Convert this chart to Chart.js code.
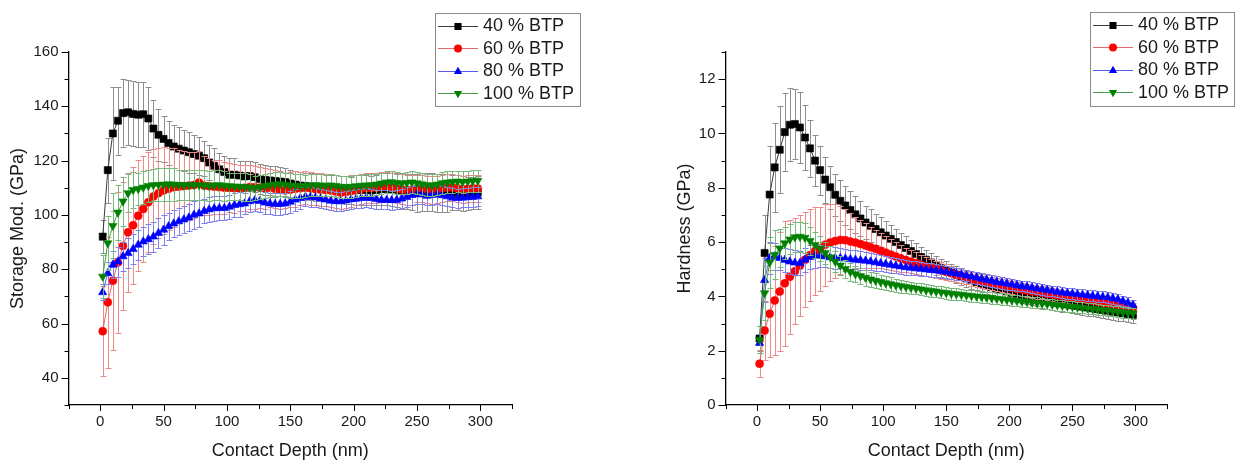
<!DOCTYPE html>
<html>
<head>
<meta charset="utf-8">
<script src="https://cdn.jsdelivr.net/npm/chart.js@4.4.1/dist/chart.umd.min.js"></script>
<style>
html,body{margin:0;padding:0;background:#ffffff;}
#wrap{position:relative;width:1236px;height:462px;overflow:hidden;background:#fff;}
.panel{position:absolute;top:0;width:618px;height:462px;}
canvas{display:block;}
</style>
</head>
<body>
<div id="wrap">
  <div class="panel" style="left:0px"><canvas id="c1" width="618" height="462"></canvas></div>
  <div class="panel" style="left:618px"><canvas id="c2" width="618" height="462"></canvas></div>
</div>
<script>
// ---------------- DATA ----------------
const seriesLabels = ['40 % BTP', '60 % BTP', '80 % BTP', '100 % BTP'];

const depthNm = [
  2,6,10,14,18,22,26,30,34,38,
  42,46,50,54,58,62,66,70,74,78,
  82,86,90,94,98,102,106,110,114,118,
  122,126,130,134,138,142,146,150,154,158,
  162,166,170,174,178,182,186,190,194,198,
  202,206,210,214,218,222,226,230,234,238,
  242,246,250,254,258,262,266,270,274,278,
  282,286,290,294,298
];

// Storage modulus (GPa)
const modulus40 = [
  92,116.5,130,134.7,137.5,137.8,137.2,136.9,137.1,135.5,
  131.8,129.5,128,126.5,125.2,124.4,123.7,123.1,122.4,121.8,
  120.9,119.3,118.1,116.8,115.8,114.8,114.8,114.5,114.2,114.3,
  113.9,113.2,112.9,112.7,112.5,112.3,112.1,111.6,111.2,110.8,
  110.6,110.5,110.3,110.2,110,109.8,109.6,109.3,109.2,109,
  109.1,109.3,109.2,109,109.2,109.5,109.6,109.4,109.1,108.8,
  108.6,108.4,108.2,108.3,108.5,108.4,108.2,108,108.1,108.3,
  108.2,108,107.9,108.1,108.3
];
const modulus40Err = [
  6,12,17,12.5,12.5,12,12,12,12,11.5,
  10.5,9.5,8.5,8,8,8,7.5,7.5,7,7,
  6.5,6.5,6.5,6,6,6,6,5.5,5.5,5.5,
  5.5,5.5,5.5,5.5,5.5,5.5,5,5,5,5,
  5,5,5,5,5,5,5,5,5,5,
  5.5,5.5,5.5,5.5,5.5,6,6,6,6,6.5,
  6.5,6.5,7,7,7,7,7,7,7,6.5,
  6.5,6.5,6,6,6
];
const modulus60 = [
  57.2,67.8,75.8,82.5,88.6,93.6,96.2,99.7,102.2,104.7,
  106.8,108,109,109.6,110.2,110.4,110.6,110.8,111,111.9,
  110.8,110.6,110.4,110.2,110,110,109.8,109.8,110,110.3,
  110.2,110,109.8,110,109.6,109.2,109,109.3,109.6,109.8,
  110,109.8,109.5,109.3,109.2,109,108.6,108.2,108.4,108.8,
  109.2,109.6,109.8,109.9,110,110.2,110.3,110.1,109.8,109.4,
  109.2,109.3,109.6,109.8,109.5,109.2,109.4,109.8,110,110.1,
  109.8,109.5,109.6,109.8,109.7
];
const modulus60Err = [
  16.5,24,25.5,26,23.5,22,21.5,20.5,19.5,18.5,
  17.5,16.5,16,15,14.5,13.5,13,12.5,12,11.5,
  11,10.5,10,10,9.5,9,9,8.5,8.5,8,
  8,7.5,7.5,7,7,7,6.5,6.5,6.5,6,
  6,6,6,6,6,6,6,6,6,6,
  5.5,5.5,5.5,5.5,5.5,5.5,5.5,5.5,5.5,5.5,
  5.5,5.5,5,5,5,5,5,5,5,5,
  5,5,5,5,5
];
const modulus80 = [
  71.5,78.5,81.6,82.8,84.7,85.9,87.4,89,90.2,91,
  92,93.3,94.5,95.8,96.8,97.6,98.3,99,100,100.5,
  101.4,102,102.4,102.5,102.5,103,103.6,103.9,104.2,105,
  105.4,105.1,104.5,104.2,104,104,104.2,104.8,105.6,106.2,
  106.7,106.6,106.4,106,105.6,105.2,105,105,105.3,105.7,
  105.9,106.2,106.3,106.2,105.8,105.5,105.5,105.4,105.5,106,
  106.6,107.3,107.6,107.5,107,107.3,107.6,107.2,106.8,106.3,
  106.2,106.3,106.5,106.6,106.8
];
const modulus80Err = [
  3,4,5,5.5,5.5,5.5,5.5,5.5,5.5,5.5,
  5.5,5.5,5.5,5,5,5,5,5,5,5,
  4.5,4.5,4.5,4.5,4.5,4.5,4.5,4.5,4,4,
  4,4,4,4,4,4,4,4,4,4,
  3.5,3.5,3.5,3.5,3.5,3.5,3.5,3.5,3.5,3.5,
  3.5,3.5,3.5,3.5,3.5,3.5,3.5,3.5,3.5,3.5,
  3.5,3.5,3.5,3.5,3.5,3.5,3.5,3.5,3.5,3.5,
  3.5,3.5,3.5,3.5,3.5
];
const modulus100 = [
  77.3,89.6,96,100.9,105,108,109.2,109.6,110.1,110.7,
  111,111.1,111.2,111.3,111.2,111.1,111,111,111.1,111,
  110.9,110.8,110.9,111,110.8,110.6,110.5,110.4,110.3,110.1,
  109.9,110.2,110.6,111,111.2,111.3,111.1,110.9,110.7,110.6,
  110.7,110.9,111,110.9,110.8,110.9,110.7,110.4,110.3,110.4,
  110.6,110.8,110.9,111,111.2,111.6,112,112.1,111.8,111.6,
  111.8,112,111.7,111.3,111,110.9,111.2,111.7,112,112.2,
  112.3,112.2,112.3,112.5,112.6
];
const modulus100Err = [
  8,10,12,10,9,7,6.5,6,6,6,
  6,6,6,6,6,5.5,5.5,5.5,5.5,5.5,
  5.5,5.5,5.5,5.5,5.5,5,5,5,5,5,
  4.5,4.5,4.5,4.5,4.5,4.5,4.5,4.5,4.5,4.5,
  4,4,4,4,4,4,4,4,4,4,
  4,4,4,4,4,4,4,4,4,4,
  4,4,4,4,4,4,4,4,4,4,
  4,4,4,4,4
];

// Hardness (GPa)
const hardness40 = [
  2.45,5.6,7.75,8.75,9.4,10.05,10.32,10.35,10.22,9.85,
  9.45,9.0,8.65,8.3,8.02,7.74,7.52,7.35,7.18,7.02,
  6.87,6.72,6.6,6.48,6.36,6.24,6.12,6.0,5.89,5.78,
  5.67,5.56,5.45,5.35,5.25,5.15,5.05,4.96,4.88,4.8,
  4.73,4.66,4.59,4.52,4.46,4.4,4.34,4.28,4.23,4.18,
  4.13,4.09,4.05,4.01,3.97,3.93,3.89,3.85,3.81,3.77,
  3.74,3.71,3.68,3.65,3.62,3.59,3.56,3.53,3.5,3.47,
  3.44,3.41,3.38,3.35,3.32
];
const hardness40Err = [
  0.45,1.4,1.8,1.65,1.6,1.45,1.35,1.3,1.3,1.2,
  1.05,0.95,0.9,0.85,0.8,0.78,0.75,0.72,0.7,0.68,
  0.65,0.62,0.6,0.57,0.55,0.52,0.5,0.48,0.46,0.44,
  0.42,0.4,0.38,0.37,0.36,0.35,0.34,0.33,0.32,0.31,
  0.3,0.3,0.3,0.3,0.3,0.3,0.3,0.3,0.3,0.3,
  0.3,0.3,0.3,0.3,0.3,0.3,0.3,0.3,0.3,0.3,
  0.3,0.3,0.3,0.3,0.3,0.3,0.3,0.3,0.3,0.3,
  0.3,0.3,0.3,0.3,0.3
];
const hardness60 = [
  1.52,2.74,3.36,3.85,4.18,4.48,4.72,4.93,5.13,5.35,
  5.52,5.67,5.76,5.9,5.98,6.04,6.08,6.07,6.02,5.98,
  5.93,5.87,5.81,5.75,5.68,5.61,5.54,5.47,5.4,5.34,
  5.28,5.22,5.16,5.1,5.05,5.0,4.95,4.9,4.85,4.8,
  4.75,4.7,4.65,4.6,4.56,4.52,4.48,4.44,4.4,4.36,
  4.32,4.28,4.25,4.22,4.19,4.16,4.13,4.1,4.07,4.04,
  4.01,3.98,3.95,3.92,3.89,3.86,3.83,3.8,3.77,3.74,
  3.71,3.68,3.65,3.61,3.57
];
const hardness60Err = [
  0.5,1.1,1.6,2.0,2.2,2.3,2.1,1.95,1.85,1.75,
  1.7,1.62,1.55,1.5,1.42,1.35,1.25,1.15,1.05,0.95,
  0.88,0.82,0.76,0.7,0.65,0.6,0.56,0.52,0.49,0.46,
  0.43,0.4,0.38,0.36,0.34,0.32,0.3,0.28,0.27,0.26,
  0.25,0.25,0.25,0.25,0.25,0.25,0.25,0.25,0.25,0.25,
  0.24,0.24,0.24,0.24,0.24,0.24,0.24,0.24,0.24,0.24,
  0.22,0.22,0.22,0.22,0.22,0.22,0.22,0.22,0.22,0.22,
  0.2,0.2,0.2,0.2,0.2
];
const hardness80 = [
  2.28,4.6,5.41,5.47,5.41,5.34,5.28,5.24,5.23,5.35,
  5.45,5.49,5.49,5.47,5.44,5.41,5.41,5.39,5.37,5.35,
  5.33,5.31,5.28,5.25,5.22,5.19,5.16,5.13,5.1,5.07,
  5.05,5.03,5.01,4.99,4.97,4.95,4.93,4.9,4.87,4.84,
  4.81,4.77,4.73,4.69,4.65,4.61,4.57,4.53,4.5,4.47,
  4.44,4.41,4.38,4.35,4.32,4.29,4.26,4.23,4.2,4.17,
  4.14,4.12,4.1,4.08,4.06,4.04,4.02,4.0,3.98,3.96,
  3.93,3.89,3.83,3.76,3.68
];
const hardness80Err = [
  0.35,0.8,0.6,0.5,0.45,0.45,0.45,0.45,0.45,0.45,
  0.45,0.45,0.4,0.4,0.4,0.4,0.38,0.36,0.35,0.35,
  0.34,0.33,0.32,0.31,0.3,0.3,0.29,0.28,0.28,0.27,
  0.27,0.26,0.26,0.25,0.25,0.24,0.24,0.23,0.23,0.22,
  0.22,0.22,0.22,0.22,0.22,0.22,0.22,0.22,0.22,0.22,
  0.2,0.2,0.2,0.2,0.2,0.2,0.2,0.2,0.2,0.2,
  0.2,0.2,0.2,0.2,0.2,0.2,0.2,0.2,0.2,0.2,
  0.2,0.2,0.2,0.2,0.2
];
const hardness100 = [
  2.4,4.12,5.25,5.53,5.77,5.96,6.1,6.18,6.2,6.16,
  6.04,5.9,5.76,5.6,5.44,5.28,5.14,5.01,4.9,4.82,
  4.75,4.69,4.63,4.58,4.53,4.49,4.45,4.41,4.38,4.35,
  4.32,4.29,4.26,4.23,4.2,4.18,4.15,4.13,4.1,4.08,
  4.06,4.04,4.02,4.0,3.98,3.96,3.94,3.92,3.9,3.88,
  3.86,3.84,3.82,3.8,3.78,3.76,3.74,3.72,3.7,3.68,
  3.66,3.64,3.62,3.6,3.58,3.56,3.54,3.52,3.5,3.48,
  3.46,3.44,3.42,3.4,3.38
];
const hardness100Err = [
  0.5,1.0,0.95,0.9,0.7,0.6,0.55,0.55,0.55,0.55,
  0.5,0.48,0.45,0.42,0.4,0.38,0.36,0.34,0.32,0.3,
  0.3,0.29,0.28,0.27,0.26,0.25,0.25,0.24,0.24,0.23,
  0.22,0.22,0.22,0.22,0.22,0.22,0.22,0.22,0.22,0.22,
  0.21,0.21,0.21,0.21,0.21,0.21,0.21,0.21,0.21,0.21,
  0.2,0.2,0.2,0.2,0.2,0.2,0.2,0.2,0.2,0.2,
  0.2,0.2,0.2,0.2,0.2,0.2,0.2,0.2,0.2,0.2,
  0.2,0.2,0.2,0.2,0.2
];

// Tick positions / labels
const depthTickMarks = [-25,0,25,50,75,100,125,150,175,200,225,250,275,300,325];
const depthTickLabels = [0,50,100,150,200,250,300];
const modulusTickMarks = [30,40,50,60,70,80,90,100,110,120,130,140,150,160];
const modulusTickLabels = [40,60,80,100,120,140,160];
const hardnessTickMarks = [0,1,2,3,4,5,6,7,8,9,10,11,12,13];
const hardnessTickLabels = [0,2,4,6,8,10,12];

// ---------------- STYLE ----------------
const FONT = "'Liberation Sans', Arial, Helvetica, sans-serif";
const TEXT = '#1a1a1a';
const markerColors = ['#000000', '#ff0000', '#0000ff', '#008000'];
const lineColors = ['#3a3a3a', '#e06868', '#5a5ae8', '#4a9e4a'];
const errorColors = ['#8e8e8e', '#ec8a8a', '#8080ec', '#78b878'];
const markerStyles = ['rect', 'circle', 'triangle', 'triangle'];
const markerRotations = [0, 0, 0, 180];
const markerRadii = [5.0, 4.0, 4.8, 4.8];
const drawOrder = [4, 3, 2, 1];

function buildDatasets(valueSets, errorSets) {
  return seriesLabels.map((label, s) => ({
    label,
    data: depthNm.map((x, i) => ({ x, y: valueSets[s][i] })),
    errors: errorSets[s],
    errorColor: errorColors[s],
    showLine: true,
    borderColor: lineColors[s],
    borderWidth: 1,
    backgroundColor: markerColors[s],
    pointBackgroundColor: markerColors[s],
    pointBorderColor: markerColors[s],
    pointBorderWidth: 0.6,
    pointStyle: markerStyles[s],
    pointRotation: markerRotations[s],
    pointRadius: markerRadii[s],
    order: drawOrder[s]
  }));
}

const errorBarPlugin = {
  id: 'errorBars',
  beforeDatasetDraw(chart, args) {
    const ds = chart.data.datasets[args.index];
    if (!ds.errors) return;
    const xs = chart.scales.x, ys = chart.scales.y, a = chart.chartArea, ctx = chart.ctx;
    ctx.save();
    ctx.beginPath();
    ctx.rect(a.left, a.top, a.right - a.left, a.bottom - a.top);
    ctx.clip();
    ctx.strokeStyle = ds.errorColor;
    ctx.lineWidth = 1;
    ctx.beginPath();
    ds.data.forEach((p, i) => {
      const e = ds.errors[i];
      if (p.y == null || e == null) return;
      const px = Math.round(xs.getPixelForValue(p.x)) + 0.5;
      const yt = Math.round(ys.getPixelForValue(p.y + e)) + 0.5;
      const yb = Math.round(ys.getPixelForValue(p.y - e)) + 0.5;
      ctx.moveTo(px, yt); ctx.lineTo(px, yb);
      ctx.moveTo(px - 3, yt); ctx.lineTo(px + 3, yt);
      ctx.moveTo(px - 3, yb); ctx.lineTo(px + 3, yb);
    });
    ctx.stroke();
    ctx.restore();
  }
};

const axisTickPlugin = {
  id: 'axisTicks',
  afterDraw(chart, args, opts) {
    const ctx = chart.ctx, a = chart.chartArea;
    ctx.save();
    ctx.strokeStyle = '#000';
    ctx.lineWidth = 1;
    ctx.beginPath();
    opts.xMarks.forEach(v => {
      const px = Math.round(chart.scales.x.getPixelForValue(v)) + 0.5;
      const len = opts.xLabels.includes(v) ? 6 : 4;
      ctx.moveTo(px, a.bottom); ctx.lineTo(px, a.bottom + len);
    });
    opts.yMarks.forEach(v => {
      const py = Math.round(chart.scales.y.getPixelForValue(v)) + 0.5;
      const len = opts.yLabels.includes(v) ? 7 : 4;
      ctx.moveTo(a.left, py); ctx.lineTo(a.left - len, py);
    });
    ctx.stroke();
    ctx.restore();
  }
};

function drawMarker(ctx, style, rotDeg, r, x, y) {
  ctx.beginPath();
  if (style === 'rect') {
    const s = r * Math.SQRT1_2;
    ctx.rect(x - s, y - s, 2 * s, 2 * s);
  } else if (style === 'circle') {
    ctx.arc(x, y, r, 0, Math.PI * 2);
  } else {
    let rad = rotDeg * Math.PI / 180;
    ctx.moveTo(x + Math.sin(rad) * r, y - Math.cos(rad) * r);
    rad += 2 * Math.PI / 3;
    ctx.lineTo(x + Math.sin(rad) * r, y - Math.cos(rad) * r);
    rad += 2 * Math.PI / 3;
    ctx.lineTo(x + Math.sin(rad) * r, y - Math.cos(rad) * r);
    ctx.closePath();
  }
  ctx.fill();
}

const boxLegendPlugin = {
  id: 'boxLegend',
  afterDraw(chart, args, opts) {
    const ctx = chart.ctx;
    const { left, top, width, height } = opts;
    ctx.save();
    ctx.fillStyle = '#ffffff';
    ctx.fillRect(left, top, width, height);
    ctx.strokeStyle = '#8a8a8a';
    ctx.lineWidth = 1;
    ctx.strokeRect(left + 0.5, top + 0.5, width, height);
    chart.data.datasets.forEach((ds, i) => {
      const cy = top + 12.5 + i * 22.5;
      ctx.strokeStyle = ds.borderColor;
      ctx.lineWidth = 1;
      ctx.beginPath();
      ctx.moveTo(left + 3, Math.round(cy) + 0.5);
      ctx.lineTo(left + 43, Math.round(cy) + 0.5);
      ctx.stroke();
      ctx.fillStyle = ds.pointBackgroundColor;
      drawMarker(ctx, ds.pointStyle, ds.pointRotation, ds.pointRadius, left + 23, Math.round(cy) + 0.5);
      ctx.fillStyle = TEXT;
      ctx.font = '18px ' + FONT;
      ctx.textAlign = 'left';
      ctx.textBaseline = 'middle';
      ctx.fillText(ds.label, left + 48, cy + 1);
    });
    ctx.restore();
  }
};

function makeChart(canvasId, opts) {
  return new Chart(document.getElementById(canvasId), {
    type: 'scatter',
    data: { datasets: buildDatasets(opts.values, opts.errors) },
    plugins: [errorBarPlugin, axisTickPlugin, boxLegendPlugin],
    options: {
      responsive: false,
      animation: false,
      devicePixelRatio: 1,
      events: [],
      layout: { padding: { left: 0, top: 52, right: opts.padRight, bottom: 0 } },
      plugins: {
        legend: { display: false },
        tooltip: { enabled: false },
        axisTicks: { xMarks: depthTickMarks, xLabels: depthTickLabels, yMarks: opts.yMarks, yLabels: opts.yLabels },
        boxLegend: opts.legend
      },
      scales: {
        x: {
          type: 'linear',
          position: 'bottom',
          min: -25, max: 325,
          afterBuildTicks: s => { s.ticks = depthTickMarks.map(v => ({ value: v })); },
          afterFit: s => { s.height = 57; },
          grid: { display: false, drawTicks: false },
          border: { display: true, color: '#000', width: 1.3 },
          ticks: {
            autoSkip: false, maxRotation: 0, minRotation: 0, padding: 8,
            color: TEXT, font: { family: FONT, size: 15 },
            callback: v => depthTickLabels.includes(v) ? String(v) : ''
          },
          title: { display: true, text: 'Contact Depth (nm)', color: TEXT, font: { family: FONT, size: 18 }, padding: { top: 0, bottom: 0 } }
        },
        y: {
          type: 'linear',
          position: 'left',
          min: opts.yMin, max: opts.yMax,
          afterBuildTicks: s => { s.ticks = opts.yMarks.map(v => ({ value: v })); },
          afterFit: s => { s.width = opts.yWidth; },
          grid: { display: false, drawTicks: false },
          border: { display: true, color: '#000', width: 1.3 },
          ticks: {
            autoSkip: false, padding: 10,
            color: TEXT, font: { family: FONT, size: 15 },
            callback: v => opts.yLabels.includes(v) ? String(v) : ''
          },
          title: { display: true, text: opts.yTitle, color: TEXT, font: { family: FONT, size: 18 }, padding: { top: opts.yTitlePad, bottom: 0 } }
        }
      }
    }
  });
}

makeChart('c1', {
  values: [modulus40, modulus60, modulus80, modulus100],
  errors: [modulus40Err, modulus60Err, modulus80Err, modulus100Err],
  yMin: 30, yMax: 160,
  yMarks: modulusTickMarks, yLabels: modulusTickLabels,
  yTitle: 'Storage Mod. (GPa)', yTitlePad: 7,
  yWidth: 68.5, padRight: 106,
  legend: { left: 435, top: 13, width: 145, height: 93 }
});

makeChart('c2', {
  values: [hardness40, hardness60, hardness80, hardness100],
  errors: [hardness40Err, hardness60Err, hardness80Err, hardness100Err],
  yMin: 0, yMax: 13,
  yMarks: hardnessTickMarks, yLabels: hardnessTickLabels,
  yTitle: 'Hardness (GPa)', yTitlePad: 56,
  yWidth: 107.5, padRight: 69,
  legend: { left: 472, top: 12, width: 144, height: 94 }
});
</script>
</body>
</html>
